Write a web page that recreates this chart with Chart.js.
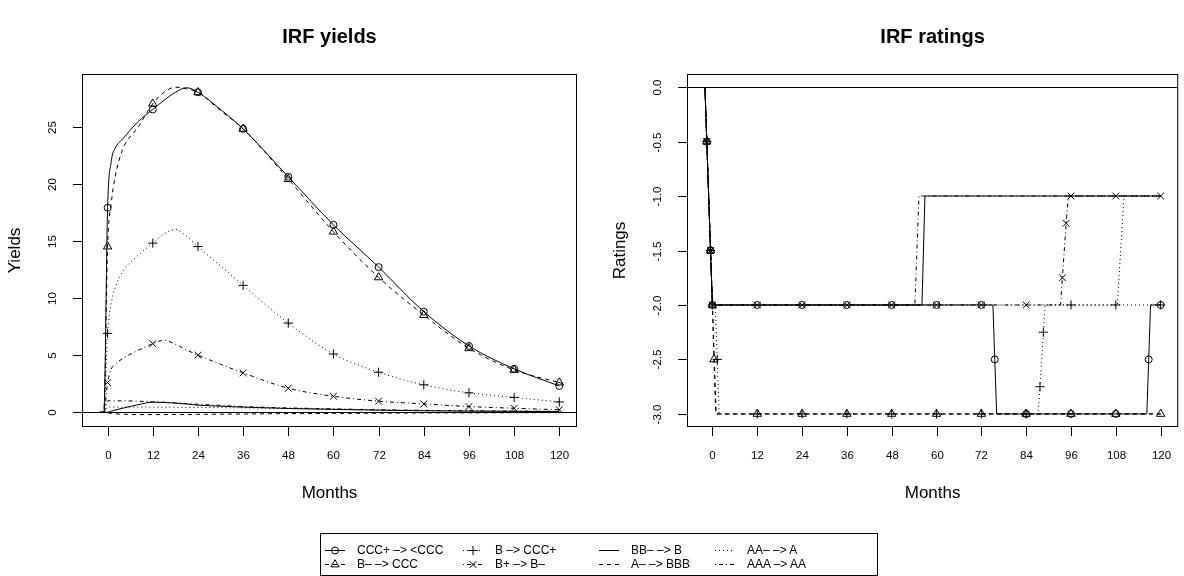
<!DOCTYPE html>
<html>
<head>
<meta charset="utf-8">
<script src="https://cdn.jsdelivr.net/npm/chart.js@4.4.1/dist/chart.umd.min.js"></script>
<style>
  body { margin: 0; background: #fff; }
  #wrap { position: relative; width: 1184px; height: 576px; overflow: hidden; font-family: "Liberation Sans", Arial, sans-serif; }
  #wrap canvas { position: absolute; top: 0; }
  #legend { position: absolute; left: 320px; top: 533px; width: 558px; height: 43px; border: 1px solid #000; box-sizing: border-box; font-size: 12px; }
  .item { position: absolute; height: 14px; line-height: 14px; white-space: nowrap; }
  .item svg { position: absolute; left: 0; top: 0; }
  .item span { position: absolute; left: 32px; top: 0; }
</style>
</head>
<body>
<div id="wrap">
  <canvas id="yields" width="592" height="576" style="left:0"></canvas>
  <canvas id="ratings" width="592" height="576" style="left:592px"></canvas>
  <div id="legend"></div>
</div>
<script>
// ---- data ----
const seriesNames = ['CCC+ –> <CCC', 'B– –> CCC', 'B –> CCC+', 'B+ –> B–', 'BB– –> B', 'A– –> BBB', 'AA– –> A', 'AAA –> AA'];

const monthTicks = [0, 12, 24, 36, 48, 60, 72, 84, 96, 108, 120];
const yieldTicks = [0, 5, 10, 15, 20, 25];
const ratingTicks = [0, -0.5, -1, -1.5, -2, -2.5, -3];
const ratingTickLabels = ['0.0', '-0.5', '-1.0', '-1.5', '-2.0', '-2.5', '-3.0'];

// yields, one value per month in yieldMonths
const yieldMonths = [-2, -1, 0, 1, 2, 4, 8, 12, 15, 18, 21, 24, 30, 36, 48, 60, 72, 84, 96, 108, 120];
const yCCCp = [0, 0, 17.9, 22.0, 23.1, 23.9, 25.4, 26.5, 27.3, 28.0, 28.4, 28.0, 26.5, 24.8, 20.6, 16.4, 12.7, 8.8, 5.8, 3.8, 2.3];
const yBm   = [0, 0, 14.5, 18.4, 20.6, 23.0, 24.9, 27.0, 28.0, 28.45, 28.3, 28.0, 26.4, 24.8, 20.4, 15.8, 11.8, 8.5, 5.6, 3.7, 2.6];
const yB    = [0, 0, 6.9, 9.6, 10.9, 12.3, 13.7, 14.8, 15.6, 16.0, 15.4, 14.5, 12.8, 11.1, 7.8, 5.1, 3.5, 2.4, 1.7, 1.3, 0.9];
const yBp   = [0, 0, 2.6, 3.8, 4.2, 4.7, 5.4, 6.0, 6.3, 5.95, 5.45, 5.0, 4.2, 3.45, 2.1, 1.4, 0.97, 0.73, 0.5, 0.35, 0.22];
const yBBm  = [0, 0, 0, 0.1, 0.2, 0.35, 0.65, 0.88, 0.86, 0.8, 0.72, 0.62, 0.53, 0.45, 0.33, 0.25, 0.18, 0.13, 0.1, 0.08, 0.06];
const yAm   = [0, 0, -0.05, -0.1, -0.13, -0.17, -0.2, -0.2, -0.2, -0.19, -0.19, -0.18, -0.17, -0.15, -0.12, -0.1, -0.08, -0.06, -0.05, -0.04, -0.03];
const yAAm  = [0, 0, 0.45, 0.45, 0.45, 0.45, 0.45, 0.45, 0.44, 0.43, 0.42, 0.42, 0.4, 0.38, 0.33, 0.27, 0.21, 0.16, 0.12, 0.09, 0.07];
const yAAA  = [0, 0, 1.0, 1.0, 1.0, 1.0, 0.97, 0.92, 0.87, 0.82, 0.76, 0.7, 0.6, 0.5, 0.38, 0.3, 0.22, 0.17, 0.13, 0.1, 0.08];

// ratings: months / values / months that carry a marker
const rCCCpMonths = [-2, -1.5, -0.5, 0, 12, 24, 36, 48, 60, 72, 75.1, 75.6, 76.1, 84, 96, 108, 116.3, 116.8, 117.3, 120];
const rCCCpValues = [0, -0.5, -1.5, -2, -2, -2, -2, -2, -2, -2, -2, -2.5, -3, -3, -3, -3, -3, -2.5, -2, -2];
const rCCCpMarks  = [-1.5, -0.5, 0, 12, 24, 36, 48, 60, 72, 75.6, 84, 96, 108, 116.8, 120];

const rBmMonths = [-2, -1.5, -0.5, 0, 0.4, 0.9, 12, 24, 36, 48, 60, 72, 84, 96, 108, 120];
const rBmValues = [0, -0.5, -1.5, -2, -2.5, -3, -3, -3, -3, -3, -3, -3, -3, -3, -3, -3];
const rBmMarks  = [-1.5, -0.5, 0, 0.4, 12, 24, 36, 48, 60, 72, 84, 96, 108, 120];

const rBMonths = [-2, -1.5, -0.5, 0, 0.8, 1.3, 1.8, 12, 24, 36, 48, 60, 72, 84, 87.2, 87.7, 88.6, 89.1, 96, 108, 120];
const rBValues = [0, -0.5, -1.5, -2, -2, -2.5, -3, -3, -3, -3, -3, -3, -3, -3, -3, -2.75, -2.25, -2, -2, -2, -2];
const rBMarks  = [-1.5, -0.5, 0, 1.3, 12, 24, 36, 48, 60, 72, 84, 87.7, 88.6, 96, 108, 120];

const rBpMonths = [-2, -1.5, -0.5, 0, 12, 24, 36, 48, 60, 72, 84, 93.2, 93.7, 94.7, 95.3, 96, 108, 120];
const rBpValues = [0, -0.5, -1.5, -2, -2, -2, -2, -2, -2, -2, -2, -2, -1.75, -1.25, -1, -1, -1, -1];
const rBpMarks  = [-1.5, -0.5, 0, 12, 24, 36, 48, 60, 72, 84, 93.7, 94.7, 96, 108, 120];

const rBBmMonths = [-2, -1.5, -0.5, 0, 56.1, 56.9, 120];
const rBBmValues = [0, -0.5, -1.5, -2, -2, -1, -1];
const rAmMonths  = [-2, -1.5, -0.5, 0, 0.5, 1.0, 120];
const rAmValues  = [0, -0.5, -1.5, -2, -2.5, -3, -3];
const rAAmMonths = [-2, -1.5, -0.5, 0, 108.4, 110.2, 120];
const rAAmValues = [0, -0.5, -1.5, -2, -2, -1, -1];
const rAAAMonths = [-2, -1.5, -0.5, 0, 54.2, 55.3, 120];
const rAAAValues = [0, -0.5, -1.5, -2, -2, -1, -1];

// ---- styles ----
const FONT = '"Liberation Sans", Arial, sans-serif';
const lineDashes = [[], [4, 4], [1, 3], [1, 3, 4, 3], [], [4, 4], [1, 3], [1, 3, 4, 3]];
const markerStyles = ['circle', 'triangle', 'cross', 'crossRot', null, null, null, null];
const markerRadius = { circle: 3.5, triangle: 4.8, cross: 4.6, crossRot: 4.8 };

function lineSet(points, i, smooth) {
    return {
        data: points,
        showLine: true,
        borderColor: '#000',
        borderWidth: 1,
        borderDash: lineDashes[i],
        pointRadius: 0,
        tension: 0,
        cubicInterpolationMode: smooth ? 'monotone' : 'default'
    };
}

function markerSet(points, i) {
    return {
        data: points,
        showLine: false,
        pointStyle: markerStyles[i],
        pointRadius: markerRadius[markerStyles[i]],
        pointBorderColor: '#000',
        pointBackgroundColor: 'rgba(0,0,0,0)',
        pointBorderWidth: 1
    };
}

// R-like frame: box, h=0 line, outside ticks, rotated y labels, titles
const rFrame = {
    id: 'rframe',
    afterDraw(chart, args, o) {
        const { ctx, chartArea: a, scales: { x, y } } = chart;
        ctx.save();
        ctx.strokeStyle = '#000';
        ctx.fillStyle = '#000';
        ctx.lineWidth = 1;
        const seg = (x1, y1, x2, y2) => { ctx.beginPath(); ctx.moveTo(x1, y1); ctx.lineTo(x2, y2); ctx.stroke(); };

        const y0 = Math.round(y.getPixelForValue(0)) + 0.5;
        seg(a.left, y0, a.right, y0);
        ctx.strokeRect(a.left + 0.5, a.top + 0.5, a.width - 1, a.height - 1);

        ctx.font = '11.5px ' + FONT;
        ctx.textAlign = 'center';
        ctx.textBaseline = 'middle';
        monthTicks.forEach(v => {
            const px = Math.round(x.getPixelForValue(v)) + 0.5;
            seg(px, a.bottom, px, a.bottom + 9);
            ctx.fillText(String(v), px, a.bottom + 29);
        });
        o.yTicks.forEach((v, k) => {
            const py = Math.round(y.getPixelForValue(v)) + 0.5;
            seg(a.left, py, a.left - 9, py);
            ctx.save();
            ctx.translate(a.left - 29, py);
            ctx.rotate(-Math.PI / 2);
            ctx.fillText(o.yLabels[k], 0, 0);
            ctx.restore();
        });

        ctx.font = 'bold 20px ' + FONT;
        ctx.fillText(o.title, (a.left + a.right) / 2, 37);
        ctx.font = '17px ' + FONT;
        ctx.fillText('Months', (a.left + a.right) / 2, a.bottom + 66);
        ctx.save();
        ctx.translate(a.left - 67, (a.top + a.bottom) / 2);
        ctx.rotate(-Math.PI / 2);
        ctx.fillText(o.yTitle, 0, 0);
        ctx.restore();
        ctx.restore();
    }
};

function makeChart(id, datasets, pad, yMin, yMax, frame) {
    return new Chart(document.getElementById(id), {
        type: 'scatter',
        data: { datasets: datasets },
        options: {
            responsive: false,
            animation: false,
            devicePixelRatio: 1,
            layout: { padding: pad },
            scales: {
                x: { type: 'linear', min: -6.8, max: 124.7, display: false },
                y: { type: 'linear', min: yMin, max: yMax, display: false }
            },
            plugins: { legend: { display: false }, tooltip: { enabled: false }, rframe: frame }
        },
        plugins: [rFrame]
    });
}

// yields panel
const yieldSeries = [yCCCp, yBm, yB, yBp, yBBm, yAm, yAAm, yAAA];
const yieldSets = [];
yieldSeries.forEach((vals, i) => {
    const pts = yieldMonths.map((m, j) => ({ x: m, y: vals[j] }));
    yieldSets.push(lineSet(pts, i, true));
    if (markerStyles[i]) yieldSets.push(markerSet(pts.filter(p => monthTicks.includes(p.x)), i));
});
makeChart('yields', yieldSets, { left: 82, top: 74, right: 15, bottom: 149 }, -1.29, 29.6,
    { title: 'IRF yields', yTitle: 'Yields', yTicks: yieldTicks, yLabels: yieldTicks.map(String) });

// ratings panel
const ratingMonths = [rCCCpMonths, rBmMonths, rBMonths, rBpMonths, rBBmMonths, rAmMonths, rAAmMonths, rAAAMonths];
const ratingValues = [rCCCpValues, rBmValues, rBValues, rBpValues, rBBmValues, rAmValues, rAAmValues, rAAAValues];
const ratingMarks = [rCCCpMarks, rBmMarks, rBMarks, rBpMarks, [], [], [], []];
const ratingSets = [];
ratingMonths.forEach((months, i) => {
    const pts = months.map((m, j) => ({ x: m, y: ratingValues[i][j] }));
    ratingSets.push(lineSet(pts, i, false));
    if (markerStyles[i]) ratingSets.push(markerSet(pts.filter(p => ratingMarks[i].includes(p.x)), i));
});
makeChart('ratings', ratingSets, { left: 95, top: 74, right: 3, bottom: 149 }, -3.12, 0.12,
    { title: 'IRF ratings', yTitle: 'Ratings', yTicks: ratingTicks, yLabels: ratingTickLabels });

// legend (R style, 4 columns x 2 rows)
const legendLefts = [4, 142, 278, 394];
const legendTops = [9, 23];
function markerSvg(style) {
    if (style === 'circle') return '<circle cx="10" cy="7.5" r="3.5" fill="none" stroke="#000"/>';
    if (style === 'triangle') return '<polygon points="10,2.7 14.2,9.9 5.8,9.9" fill="none" stroke="#000"/>';
    if (style === 'cross') return '<path d="M5.4 7.5H14.6M10 2.9V12.1" stroke="#000"/>';
    if (style === 'crossRot') return '<path d="M6.6 4.1L13.4 10.9M13.4 4.1L6.6 10.9" stroke="#000"/>';
    return '';
}
const legend = document.getElementById('legend');
seriesNames.forEach((name, i) => {
    const item = document.createElement('div');
    item.className = 'item';
    item.style.left = legendLefts[Math.floor(i / 2)] + 'px';
    item.style.top = legendTops[i % 2] + 'px';
    const dash = lineDashes[i].length ? ' stroke-dasharray="' + lineDashes[i].join(' ') + '"' : '';
    item.innerHTML = '<svg width="20" height="14"><line x1="0" y1="7.5" x2="20" y2="7.5" stroke="#000"' + dash + '/>' +
        markerSvg(markerStyles[i]) + '</svg><span></span>';
    item.querySelector('span').textContent = name;
    legend.appendChild(item);
});
</script>
</body>
</html>
